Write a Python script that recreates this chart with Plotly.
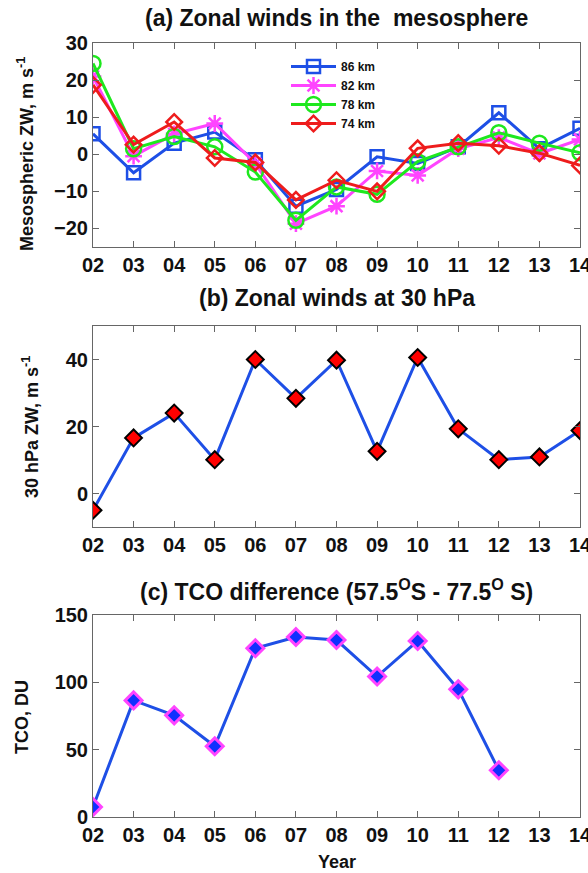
import plotly.graph_objects as go

years = [2, 3, 4, 5, 6, 7, 8, 9, 10, 11, 12, 13, 14]
year_labels = ["02", "03", "04", "05", "06", "07", "08", "09", "10", "11", "12", "13", "14"]

zw86 = [5.5, -5.0, 3.0, 6.0, -1.5, -14.0, -9.5, -0.7, -2.5, 2.0, 11.2, 1.5, 7.0]
zw82 = [21.0, -0.5, 5.5, 8.3, -2.5, -18.7, -14.0, -4.5, -5.7, 1.5, 4.5, 0.2, 4.0]
zw78 = [24.5, 1.5, 4.8, 2.0, -4.8, -17.8, -8.8, -10.8, -2.0, 2.0, 5.8, 3.0, 0.4]
zw74 = [18.7, 2.6, 8.7, -1.0, -2.2, -12.3, -7.0, -10.0, 1.6, 3.0, 2.3, 0.3, -3.0]

zw30 = [-5.0, 16.6, 24.0, 10.1, 40.0, 28.4, 39.8, 12.6, 40.6, 19.3, 10.1, 10.9, 18.8]

tco_years = [2, 3, 4, 5, 6, 7, 8, 9, 10, 11, 12]
tco = [7.4, 86.6, 75.5, 52.5, 125.3, 133.7, 131.4, 104.3, 130.7, 94.8, 34.7]

FONT = "Liberation Sans, Arial, sans-serif"
BLUE = "#1E4FE6"
MAGENTA = "#FF44FF"
GREEN = "#1EE81E"
RED = "#EE1C1C"
AX = "#666666"

fig = go.Figure()

def open_trace(y, x, color, symbol, size, name):
    return go.Scatter(
        x=x, y=y, mode="lines+markers", name=name, xaxis="x", yaxis="y",
        line=dict(color=color, width=3),
        marker=dict(symbol=symbol, size=size, color=color, line=dict(color=color, width=2.5)),
    )

def filled_trace(y, x, fill, edge, edge_w, name, xa, ya):
    return go.Scatter(
        x=x, y=y, mode="lines+markers", name=name, xaxis=xa, yaxis=ya, showlegend=False,
        line=dict(color=BLUE, width=3),
        marker=dict(symbol="diamond", size=13, color=fill, line=dict(color=edge, width=edge_w)),
    )

fig.add_trace(open_trace(zw86, years, BLUE, "square-open", 13, "86 km"))
fig.add_trace(open_trace(zw82, years, MAGENTA, "asterisk-open", 14, "82 km"))
fig.add_trace(open_trace(zw78, years, GREEN, "circle-open", 15, "78 km"))
fig.add_trace(open_trace(zw74, years, RED, "diamond-open", 12, "74 km"))

fig.add_trace(filled_trace(zw30, years, "#FF0000", "#000000", 2, "30 hPa", "x2", "y2"))
fig.add_trace(filled_trace(tco, tco_years, "#1030FF", MAGENTA, 3, "TCO", "x3", "y3"))

tickfont = dict(family=FONT, size=20, color="#111111", weight="bold")
xdom = [93 / 588, 580 / 588]

def xax(anchor):
    return dict(domain=xdom, anchor=anchor, range=[2, 14], tickvals=years, ticktext=year_labels,
                ticks="inside", ticklen=6, tickcolor=AX, mirror="allticks", showline=True,
                linecolor=AX, linewidth=1, showgrid=False, zeroline=False, tickfont=tickfont,
                automargin=False, ticklabeloverflow="allow")

def yax(anchor, dom, rng, dtick):
    return dict(domain=dom, anchor=anchor, range=rng, dtick=dtick, tick0=0,
                ticks="inside", ticklen=6, tickcolor=AX, mirror="allticks", showline=True,
                linecolor=AX, linewidth=1, showgrid=False, zeroline=False, tickfont=tickfont,
                automargin=False, ticklabeloverflow="allow")

H = 873.0
fig.update_layout(
    width=588, height=873,
    margin=dict(l=0, r=0, t=0, b=0),
    paper_bgcolor="white", plot_bgcolor="white",
    font=dict(family=FONT, color="#111111"),
    xaxis=xax("y"),
    yaxis=yax("x", [1 - 247 / H, 1 - 43 / H], [-25, 30], 10),
    xaxis2=xax("y2"),
    yaxis2=yax("x2", [1 - 527 / H, 1 - 326 / H], [-10, 50], 20),
    xaxis3=xax("y3"),
    yaxis3=yax("x3", [1 - 817 / H, 1 - 615 / H], [0, 150], 50),
    legend=dict(x=286 / 588, y=1 - 52 / H, xanchor="left", yanchor="top",
                bgcolor="rgba(255,255,255,0)", borderwidth=0,
                font=dict(family=FONT, size=12, color="#111111", weight="bold"),
                tracegroupgap=0, itemwidth=45),
)

title_font = dict(family=FONT, size=23, color="#111111", weight="bold")
axt_font = dict(family=FONT, size=18, color="#111111", weight="bold")
cx = 336.5 / 588
annos = [
    dict(text="(a) Zonal winds in the  mesosphere", x=cx, y=1 - 18 / H, font=title_font, textangle=0),
    dict(text="(b) Zonal winds at 30 hPa", x=cx, y=1 - 298 / H, font=title_font, textangle=0),
    dict(text="(c) TCO difference (57.5<sup>O</sup>S - 77.5<sup>O</sup> S)", x=cx, y=1 - 590 / H,
         font=title_font, textangle=0),
    dict(text="Mesospheric ZW, m s<sup>-1</sup>", x=25 / 588, y=1 - 154 / H, font=axt_font, textangle=-90),
    dict(text="30 hPa ZW, m s<sup>-1</sup>", x=30 / 588, y=1 - 427 / H, font=axt_font, textangle=-90),
    dict(text="TCO, DU", x=22 / 588, y=1 - 717 / H, font=axt_font, textangle=-90),
    dict(text="Year", x=cx, y=1 - 862 / H, font=axt_font, textangle=0),
]
for a in annos:
    fig.add_annotation(xref="paper", yref="paper", xanchor="center", yanchor="middle",
                       showarrow=False, **a)

fig.write_html("out.html")
